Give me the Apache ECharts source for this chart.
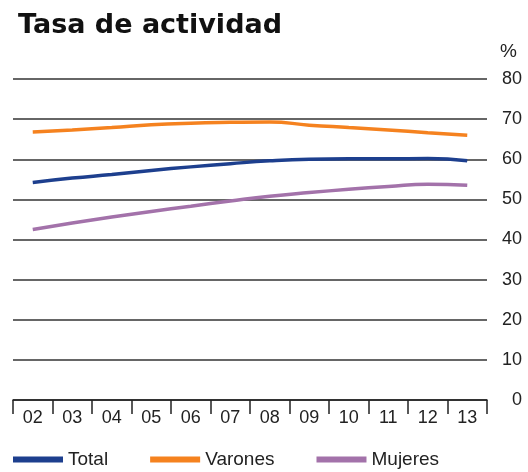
<!DOCTYPE html>
<html>
<head>
<meta charset="utf-8">
<script src="https://cdn.jsdelivr.net/npm/echarts@6/dist/echarts.min.js"></script>
<style>
  html, body { margin: 0; padding: 0; background: #fff; }
  #chart { width: 528px; height: 472px; }
</style>
</head>
<body>
<div id="chart"></div>
<script>
// años (2002-2013)
const years = ['02', '03', '04', '05', '06', '07', '08', '09', '10', '11', '12', '13'];
const total = [54.2, 55.3, 56.2, 57.2, 58.1, 58.9, 59.6, 60.0, 60.1, 60.1, 60.2, 59.6];
const varones = [66.8, 67.3, 67.9, 68.6, 69.0, 69.2, 69.3, 68.5, 67.9, 67.3, 66.6, 66.0];
const mujeres = [42.5, 44.1, 45.6, 47.0, 48.3, 49.6, 50.8, 51.7, 52.5, 53.2, 53.8, 53.5];

const font = '"Liberation Sans", Arial, sans-serif';
const chart = echarts.init(document.getElementById('chart'));

const mkLine = (name, data, color) => ({
  name: name,
  type: 'line',
  smooth: true,
  symbol: 'none',
  data: data,
  lineStyle: { color: color, width: 3.5 },
  itemStyle: { color: color }
});

const option = {
  animation: false,
  title: [
    {
      text: 'Tasa de actividad',
      left: 13, top: 7,
      textStyle: { fontFamily: '"DejaVu Sans", sans-serif', fontSize: 27, fontWeight: 'bold', color: '#111' }
    },
    {
      text: '%',
      right: 6, top: 37,
      textStyle: { fontFamily: font, fontSize: 19, fontWeight: 'normal', color: '#222' }
    }
  ],
  grid: { left: 13, right: 41, top: 79, bottom: 72 },
  legend: {
    bottom: -2, left: 8,
    itemWidth: 50, itemHeight: 6, itemGap: 42,
    icon: 'rect',
    textStyle: { fontFamily: font, fontSize: 19, color: '#222' },
    data: ['Total', 'Varones', 'Mujeres']
  },
  xAxis: {
    type: 'category',
    data: years,
    boundaryGap: true,
    axisLine: { show: true, lineStyle: { color: '#222', width: 1.5 } },
    axisTick: { show: true, inside: false, alignWithLabel: false, interval: 0, length: 14, lineStyle: { color: '#222', width: 1.5 } },
    axisLabel: { fontFamily: font, fontSize: 18, color: '#222', margin: 9 }
  },
  yAxis: {
    type: 'value',
    position: 'right',
    min: 0, max: 80, interval: 10,
    axisLine: { show: false },
    axisTick: { show: false },
    axisLabel: { fontFamily: font, fontSize: 18, color: '#222', align: 'right', margin: 35 },
    splitLine: { lineStyle: { color: '#333', width: 1.5 } }
  },
  series: [
    mkLine('Total', total, '#1d3f8e'),
    mkLine('Varones', varones, '#f5821f'),
    mkLine('Mujeres', mujeres, '#a372aa')
  ]
};

chart.setOption(option);
</script>
</body>
</html>
